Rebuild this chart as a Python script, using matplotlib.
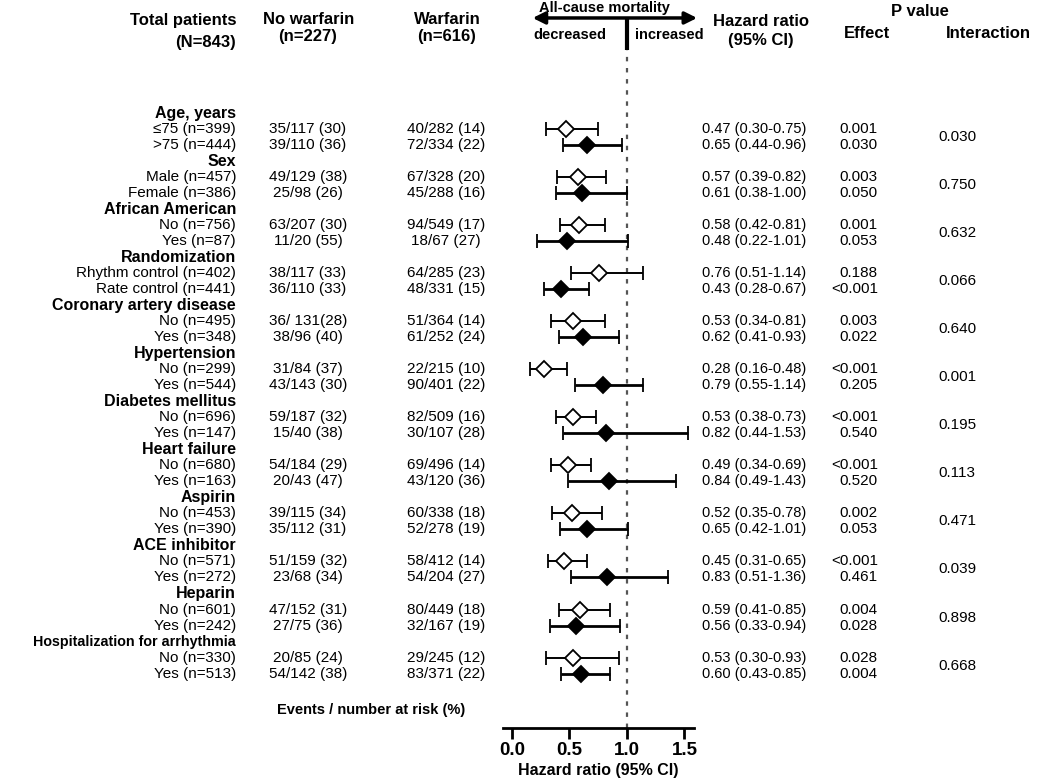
import numpy as np
import matplotlib.pyplot as plt
from matplotlib.transforms import blended_transform_factory

plt.rcParams['font.family'] = ['Liberation Sans', 'DejaVu Sans']

# subgroup headers and rows (two rows per group)
groups = ["Age, years", "Sex", "African American", "Randomization",
          "Coronary artery disease", "Hypertension", "Diabetes mellitus",
          "Heart failure", "Aspirin", "ACE inhibitor", "Heparin",
          "Hospitalization for arrhythmia"]

row_labels = ["\u226475 (n=399)", ">75 (n=444)",
              "Male (n=457)", "Female (n=386)",
              "No (n=756)", "Yes (n=87)",
              "Rhythm control (n=402)", "Rate control (n=441)",
              "No (n=495)", "Yes (n=348)",
              "No (n=299)", "Yes (n=544)",
              "No (n=696)", "Yes (n=147)",
              "No (n=680)", "Yes (n=163)",
              "No (n=453)", "Yes (n=390)",
              "No (n=571)", "Yes (n=272)",
              "No (n=601)", "Yes (n=242)",
              "No (n=330)", "Yes (n=513)"]

no_warfarin = ["35/117 (30)", "39/110 (36)", "49/129 (38)", "25/98 (26)",
               "63/207 (30)", "11/20 (55)", "38/117 (33)", "36/110 (33)",
               "36/ 131(28)", "38/96 (40)", "31/84 (37)", "43/143 (30)",
               "59/187 (32)", "15/40 (38)", "54/184 (29)", "20/43 (47)",
               "39/115 (34)", "35/112 (31)", "51/159 (32)", "23/68 (34)",
               "47/152 (31)", "27/75 (36)", "20/85 (24)", "54/142 (38)"]

warfarin = ["40/282 (14)", "72/334 (22)", "67/328 (20)", "45/288 (16)",
            "94/549 (17)", "18/67 (27)", "64/285 (23)", "48/331 (15)",
            "51/364 (14)", "61/252 (24)", "22/215 (10)", "90/401 (22)",
            "82/509 (16)", "30/107 (28)", "69/496 (14)", "43/120 (36)",
            "60/338 (18)", "52/278 (19)", "58/412 (14)", "54/204 (27)",
            "80/449 (18)", "32/167 (19)", "29/245 (12)", "83/371 (22)"]

hr = np.array([0.47, 0.65, 0.57, 0.61, 0.58, 0.48, 0.76, 0.43, 0.53, 0.62, 0.28, 0.79,
               0.53, 0.82, 0.49, 0.84, 0.52, 0.65, 0.45, 0.83, 0.59, 0.56, 0.53, 0.60])
ci_lo = np.array([0.30, 0.44, 0.39, 0.38, 0.42, 0.22, 0.51, 0.28, 0.34, 0.41, 0.16, 0.55,
                  0.38, 0.44, 0.34, 0.49, 0.35, 0.42, 0.31, 0.51, 0.41, 0.33, 0.30, 0.43])
ci_hi = np.array([0.75, 0.96, 0.82, 1.00, 0.81, 1.01, 1.14, 0.67, 0.81, 0.93, 0.48, 1.14,
                  0.73, 1.53, 0.69, 1.43, 0.78, 1.01, 0.65, 1.36, 0.85, 0.94, 0.93, 0.85])

p_effect = ["0.001", "0.030", "0.003", "0.050", "0.001", "0.053", "0.188", "<0.001",
            "0.003", "0.022", "<0.001", "0.205", "<0.001", "0.540", "<0.001", "0.520",
            "0.002", "0.053", "<0.001", "0.461", "0.004", "0.028", "0.028", "0.004"]

p_interaction = ["0.030", "0.750", "0.632", "0.066", "0.640", "0.001",
                 "0.195", "0.113", "0.471", "0.039", "0.898", "0.668"]

W, H = 1050, 779
fig = plt.figure(figsize=(W / 100, H / 100), dpi=100)


def fx(px):
    return px / W


def fy(py):
    return 1 - py / H


# forest axes: rows are 16 px apart, first header row at y=113 px
ax = fig.add_axes([fx(503), fy(728), fx(694) - fx(503), fy(50) - fy(728)])
ax.set_xlim(-0.078, 1.583)
ax.set_ylim(38.4, -3.94)

fs = 11
fsb = 11.5
trans = blended_transform_factory(fig.transFigure, ax.transData)

row_y = []
for g, name in enumerate(groups):
    # the long last header is squeezed a bit in the original
    ax.text(fx(236), 3 * g, name, transform=trans, ha='right', va='center',
            fontsize=fsb if len(name) < 25 else 10.3, fontweight='bold')
    row_y += [3 * g + 1, 3 * g + 2]
    ax.text(fx(957), 3 * g + 1.5, p_interaction[g], transform=trans,
            ha='center', va='center', fontsize=fs)

for i, y in enumerate(row_y):
    ax.text(fx(236), y, row_labels[i], transform=trans, ha='right', va='center', fontsize=fs)
    ax.text(fx(308), y, no_warfarin[i], transform=trans, ha='center', va='center', fontsize=fs)
    ax.text(fx(446), y, warfarin[i], transform=trans, ha='center', va='center', fontsize=fs)
    ax.text(fx(702), y, f"{hr[i]:.2f} ({ci_lo[i]:.2f}-{ci_hi[i]:.2f})", transform=trans,
            ha='left', va='center', fontsize=10.5)
    ax.text(fx(878), y, p_effect[i], transform=trans, ha='right', va='center', fontsize=fs)

    filled = (i % 2 == 1)
    ax.errorbar(hr[i], y, xerr=[[hr[i] - ci_lo[i]], [ci_hi[i] - hr[i]]],
                fmt='D', ms=8.5, mfc='black' if filled else 'white', mec='black', mew=1.3,
                ecolor='black', elinewidth=2.0 if filled else 1.4,
                capsize=5, capthick=2, zorder=3)

ax.axvline(1.0, color='#555555', lw=1.6, ls=(0, (2, 3)), zorder=1)

# header above the forest plot
ax.plot([1.0, 1.0], [-5.94, -3.94], color='black', lw=3, clip_on=False, solid_capstyle='butt')
ax.annotate('', xy=(0.18, -5.94), xytext=(1.61, -5.94),
            arrowprops=dict(arrowstyle='<|-|>', lw=2.5, color='black', mutation_scale=18,
                            shrinkA=0, shrinkB=0),
            annotation_clip=False)
fig.text(fx(604), fy(8), "All-cause mortality", ha='center', va='center', fontsize=10.5,
         fontweight='bold')
fig.text(fx(570), fy(35), "decreased", ha='center', va='center', fontsize=10.5, fontweight='bold')
fig.text(fx(669), fy(35), "increased", ha='center', va='center', fontsize=10.5, fontweight='bold')

fh = 12
fig.text(fx(236), fy(20), "Total patients", ha='right', va='center', fontsize=fh, fontweight='bold')
fig.text(fx(236), fy(42), "(N=843)", ha='right', va='center', fontsize=fh, fontweight='bold')
fig.text(fx(309), fy(20), "No warfarin", ha='center', va='center', fontsize=fh, fontweight='bold')
fig.text(fx(308), fy(37), "(n=227)", ha='center', va='center', fontsize=fh, fontweight='bold')
fig.text(fx(447), fy(20), "Warfarin", ha='center', va='center', fontsize=fh, fontweight='bold')
fig.text(fx(447), fy(37), "(n=616)", ha='center', va='center', fontsize=fh, fontweight='bold')
fig.text(fx(761), fy(22), "Hazard ratio", ha='center', va='center', fontsize=fh, fontweight='bold')
fig.text(fx(761), fy(40), "(95% CI)", ha='center', va='center', fontsize=fh, fontweight='bold')
fig.text(fx(920), fy(11), "P value", ha='center', va='center', fontsize=fh, fontweight='bold')
fig.text(fx(867), fy(34), "Effect", ha='center', va='center', fontsize=fh, fontweight='bold')
fig.text(fx(988), fy(34), "Interaction", ha='center', va='center', fontsize=fh, fontweight='bold')

fig.text(fx(371), fy(710), "Events / number at risk (%)", ha='center', va='center',
         fontsize=10.5, fontweight='bold')

# bottom axis only
for s in ['left', 'right', 'top']:
    ax.spines[s].set_visible(False)
ax.spines['bottom'].set_linewidth(2)
ax.set_yticks([])
ax.set_xticks([0, 0.5, 1.0, 1.5])
ax.set_xticklabels(["0.0", "0.5", "1.0", "1.5"], fontsize=13.5, fontweight='bold')
ax.tick_params(axis='x', direction='out', length=8, width=2, pad=2)
ax.set_xlabel("Hazard ratio (95% CI)", fontsize=11.5, fontweight='bold', labelpad=3)

fig.savefig("out.png", dpi=100)
